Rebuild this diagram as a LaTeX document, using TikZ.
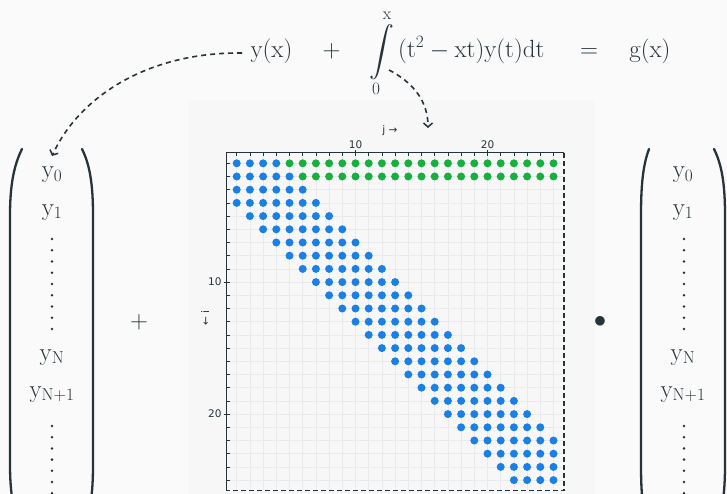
\documentclass[tikz,border=0pt]{standalone}
\usepackage{amsmath}
\usepackage[no-math]{fontspec}
\newfontfamily\lblfont{DejaVu Sans}
\usetikzlibrary{arrows.meta}
\definecolor{bgc}{RGB}{250,250,250}
\definecolor{plotbg}{RGB}{247,247,247}
\definecolor{ink}{RGB}{38,52,58}
\definecolor{dotblue}{RGB}{26,128,230}
\definecolor{dotgreen}{RGB}{22,176,62}
\definecolor{gridc}{RGB}{232,234,236}
\tikzset{
  paren/.style={draw=ink, line width=2.3pt, line cap=round},
  eqn/.style={anchor=base, inner sep=0pt, font=\fontsize{26}{30}\selectfont},
  entry/.style={anchor=base, inner sep=0pt, font=\fontsize{25}{30}\selectfont},
  lbl/.style={inner sep=1pt, font=\lblfont\fontsize{10.5}{12}\selectfont},
  dasharrow/.style={draw=ink, line width=1.6pt, dash pattern=on 5pt off 4pt,
    -{Straight Barb[length=4pt,width=9pt,line width=1.5pt]}},
  vdot/.style={fill=ink},
}
\begin{document}
\begin{tikzpicture}[x=1pt,y=-1pt, every node/.style={text=ink}]
\fill[bgc] (0,0) rectangle (727,494);
\useasboundingbox (0,0) rectangle (727,494);
\clip (0,0) rectangle (727,494);
\fill[plotbg] (188,100) rectangle (595,494);

% equation
\node[eqn] (yx) at (271.5,58) {$\mathrm{y(x)}$};
\node[eqn] (p1) at (331.5,58) {$+$};
\node[eqn, anchor=base west] (intg) at (369,58) {$\displaystyle\int\limits_{0}^{\mathrm{x}}\mathrm{(t^2-xt)y(t)dt}$};
\node[eqn] (eq) at (589,58) {$=$};
\node[eqn] (gx) at (650,58) {$\mathrm{g(x)}$};

% matrix plot
\begin{scope}[shift={(223.5,150.1)}, x=13.2pt, y=-13.2pt]
  \foreach \k in {1,...,25} {
    \draw[gridc, line width=0.5pt] (\k,0.2) -- (\k,25.8);
    \draw[gridc, line width=0.5pt] (0.24,\k) -- (25.8,\k);
  }
  \foreach \i in {1,...,25} {
    \foreach \j in {1,...,25} {
      \pgfmathtruncatemacro\d{abs(\i-\j)}
      \ifnum\d<4
        \fill[dotblue] (\j,\i) circle[radius=4pt];
      \else
        \ifnum\i<3 \ifnum\j>\i
          \fill[dotgreen] (\j,\i) circle[radius=4pt];
        \fi\fi
      \fi
    }
  }
  \foreach \k in {1,...,25} {
    \draw[ink, line width=0.5pt] (\k,0.2) -- ++(0pt,-3pt);
    \draw[ink, line width=0.5pt] (0.24,\k) -- ++(3pt,0pt);
  }
  \foreach \k in {10,20} {
    \draw[ink, line width=0.7pt] (\k,0.2) ++(0pt,3pt) -- ++(0pt,-6pt);
    \draw[ink, line width=0.7pt] (0.24,\k) ++(-3pt,0pt) -- ++(6pt,0pt);
  }
  \draw[ink, line width=1.2pt] (0.24,25.8) -- (0.24,0.2) -- (25.8,0.2);
  \draw[ink, line width=1.2pt, dash pattern=on 5pt off 3pt] (25.8,0.2) -- (25.8,25.8) -- (0.24,25.8);
  \node[lbl, above=3pt] (t10) at (10,0.2) {10};
  \node[lbl, above=3pt] (t20) at (20,0.2) {20};
  \node[lbl, left=4pt] (l10) at (0.24,10) {10};
  \node[lbl, left=4pt] (l20) at (0.24,20) {20};
  \node[lbl] (jlab) at (12.6,-1.45) {j →};
  \node[lbl, rotate=90] (ilab) at (-1.4,12.7) {← i};
\end{scope}

% left vector
\draw[paren] (22,149) .. controls (14,165) and (10,185) .. (10,215) -- (10,465) .. controls (10,495) and (14,515) .. (22,531);
\draw[paren] (82,149) .. controls (90,165) and (93,185) .. (93,215) -- (93,465) .. controls (93,495) and (90,515) .. (82,531);
\node[entry] (a0) at (52,178) {$\mathrm{y}_0$};
\node[entry] (a1) at (52,215) {$\mathrm{y}_1$};
\node[entry] (aN) at (52,360) {$\mathrm{y_N}$};
\node[entry] (aN1) at (52,397) {$\mathrm{y_{N+1}}$};
\foreach \k in {0,...,8} \fill[vdot] (52,{239+\k*11.25}) circle[radius=1.4pt];
\foreach \k in {0,...,6} \fill[vdot] (52,{426+\k*11.2}) circle[radius=1.4pt];

% right vector
\draw[paren] (649,149) .. controls (643,165) and (641,185) .. (641,215) -- (641,465) .. controls (641,495) and (643,515) .. (649,531);
\draw[paren] (714,149) .. controls (722,165) and (725,185) .. (725,215) -- (725,465) .. controls (725,495) and (722,515) .. (714,531);
\node[entry] (b0) at (683,178) {$\mathrm{y}_0$};
\node[entry] (b1) at (683,215) {$\mathrm{y}_1$};
\node[entry] (bN) at (683,360) {$\mathrm{y_N}$};
\node[entry] (bN1) at (683,397) {$\mathrm{y_{N+1}}$};
\foreach \k in {0,...,8} \fill[vdot] (684,{239+\k*11.25}) circle[radius=1.4pt];
\foreach \k in {0,...,6} \fill[vdot] (684,{426+\k*11.2}) circle[radius=1.4pt];

% operators
\node[font=\fontsize{25}{30}\selectfont] (p2) at (139,322) {$+$};
\node[font=\fontsize{30}{34}\selectfont] (bul) at (600,322) {$\bullet$};

% connectors
\coordinate (s1) at (242,53);
\coordinate (e1) at (52,156);
\draw[dasharrow] (s1) .. controls (150,52) and (80,95) .. (e1);
\coordinate (s2) at (389,70);
\coordinate (e2) at (428,128);
\draw[dasharrow] (s2) .. controls (412,82) and (428,100) .. (e2);
\end{tikzpicture}
\end{document}
